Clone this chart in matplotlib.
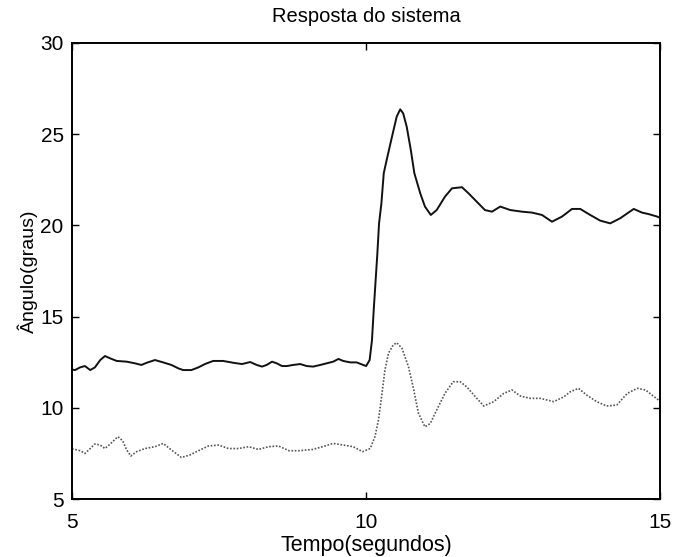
import matplotlib
matplotlib.use("Agg")
import matplotlib.pyplot as plt

# curva superior (linha cheia)
t_sup = [5.0, 5.05, 5.14, 5.22, 5.31, 5.39, 5.48, 5.56, 5.65, 5.76, 5.93, 6.07, 6.18, 6.27,
         6.41, 6.55, 6.69, 6.81, 6.89, 7.03, 7.15, 7.26, 7.40, 7.57, 7.74, 7.89, 8.03,
         8.14, 8.23, 8.31, 8.40, 8.48, 8.57, 8.65, 8.76, 8.88, 8.99, 9.10, 9.22, 9.33,
         9.44, 9.53, 9.61, 9.73, 9.84, 9.95, 10.0, 10.06, 10.10, 10.13, 10.16,
         10.19, 10.22, 10.26, 10.30, 10.35, 10.44, 10.52, 10.58, 10.63, 10.69, 10.76,
         10.82, 10.92, 11.0, 11.10, 11.2, 11.34, 11.46, 11.63, 11.74, 11.88, 12.02,
         12.14, 12.28, 12.45, 12.65, 12.82, 12.99, 13.16, 13.33, 13.50, 13.64, 13.81,
         13.98, 14.15, 14.32, 14.55, 14.69, 14.80, 14.95, 15.0]
y_sup = [12.1, 12.07, 12.22, 12.29, 12.07, 12.22, 12.62, 12.84, 12.71, 12.57, 12.53, 12.44,
         12.35, 12.47, 12.62, 12.49, 12.35, 12.16, 12.07, 12.07, 12.22, 12.4, 12.57, 12.57,
         12.47, 12.4, 12.51, 12.35, 12.26, 12.35, 12.53, 12.44, 12.29, 12.29, 12.35, 12.4,
         12.29, 12.26, 12.35, 12.44, 12.53, 12.68, 12.57, 12.49, 12.49, 12.35, 12.29,
         12.62, 13.72, 15.4, 16.9, 18.4, 20.11, 21.21, 22.86, 23.59, 24.86,
         25.96, 26.36, 26.14, 25.41, 24.13, 22.86, 21.76, 21.03, 20.57, 20.84, 21.57,
         22.03, 22.09, 21.76, 21.3, 20.84, 20.75, 21.03, 20.84, 20.75, 20.7, 20.57, 20.2,
         20.48, 20.9, 20.9, 20.57, 20.26, 20.11, 20.39, 20.9, 20.7, 20.62, 20.48, 20.4]

# curva inferior (pontilhada)
t_inf = [5.0, 5.05, 5.14, 5.22, 5.31, 5.39, 5.48, 5.56, 5.65, 5.78, 5.86, 5.93, 6.0, 6.1,
         6.24, 6.41, 6.55, 6.69, 6.86, 7.0, 7.15, 7.32, 7.49, 7.66, 7.83, 8.0, 8.17,
         8.34, 8.51, 8.69, 8.86, 9.09, 9.26, 9.44, 9.61, 9.78, 9.94, 10.07, 10.15, 10.21,
         10.27, 10.32, 10.38, 10.46, 10.52, 10.61, 10.72, 10.81, 10.89, 11.0, 11.09, 11.2,
         11.34, 11.48, 11.60, 11.71, 11.86, 12.0, 12.17, 12.34, 12.48, 12.62, 12.79,
         12.96, 13.19, 13.36, 13.47, 13.61, 13.75, 13.92, 14.09, 14.26, 14.44, 14.61,
         14.75, 14.86, 14.97, 15.0]
y_inf = [7.75, 7.72, 7.65, 7.5, 7.77, 8.02, 7.96, 7.77, 8.02, 8.42, 8.2, 7.69, 7.36, 7.6,
         7.77, 7.87, 8.05, 7.69, 7.28, 7.41, 7.65, 7.91, 7.96, 7.77, 7.77, 7.87, 7.72,
         7.87, 7.91, 7.65, 7.65, 7.72, 7.87, 8.05, 7.96, 7.87, 7.6, 7.77, 8.42, 9.33,
         10.79, 12.07, 12.99, 13.44, 13.57, 13.26, 12.26, 10.98, 9.7, 8.96, 9.14, 9.88,
         10.79, 11.43, 11.43, 11.15, 10.6, 10.1, 10.34, 10.79, 10.98, 10.65, 10.52, 10.52,
         10.34, 10.6, 10.88, 11.07, 10.7, 10.34, 10.1, 10.15, 10.79, 11.07, 10.98, 10.7,
         10.43, 10.4]

x_ticks = [5, 10, 15]
y_ticks = [5, 10, 15, 20, 25, 30]

plt.rcParams["font.family"] = ["Liberation Sans", "DejaVu Sans"]

fig = plt.figure(figsize=(6.73, 5.57), dpi=100)
ax = fig.add_axes([0.107, 0.104, 0.874, 0.819])
ax.plot(t_sup, y_sup, "-", color="#111111", lw=1.4)
ax.plot(t_inf, y_inf, color="#555555", lw=1.2, ls=(0, (1, 1)))
ax.set_xlim(5, 15); ax.set_ylim(5, 30)
ax.set_xticks(x_ticks); ax.set_yticks(y_ticks)
ax.tick_params(direction="in", length=5, width=1, labelsize=15,
               top=True, right=True)
ax.tick_params(axis="x", pad=10)
ax.tick_params(axis="y", pad=6)
for s in ax.spines.values():
    s.set_linewidth(1.4)
ax.set_title("Resposta do sistema", fontsize=14.5, pad=15)
ax.set_xlabel("Tempo(segundos)", fontsize=15.5, labelpad=2)
ax.set_ylabel("Ângulo(graus)", fontsize=14, labelpad=2)
fig.savefig("out.png", dpi=100)
